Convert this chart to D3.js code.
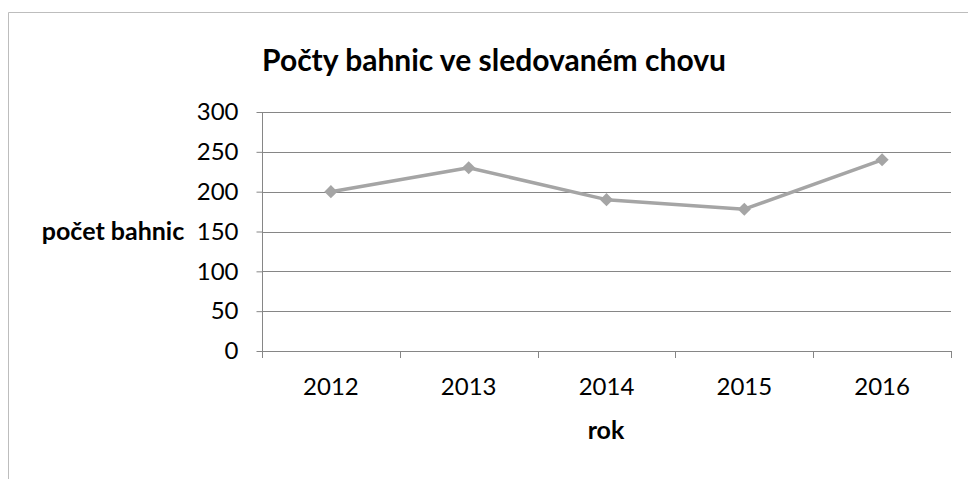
<!DOCTYPE html>
<html><head><meta charset="utf-8">
<script src="https://cdn.jsdelivr.net/npm/d3@7"></script>
<style>body{margin:0;background:#fff}svg{display:block}text{font-family:Lato,"Open Sans",sans-serif}</style>
</head><body>
<script>
const categories = ["2012","2013","2014","2015","2016"];
const values = [200, 230, 190, 178, 240];
const yTicks = [0,50,100,150,200,250,300];
const title = "Počty bahnic ve sledovaném chovu";
const xTitle = "rok";
const yTitle = "počet bahnic";

(function(){
const W=968,H=479;
const svg=d3.select("body").append("svg").attr("width",W).attr("height",H);
svg.append("rect").attr("width",W).attr("height",H).attr("fill","#fff");
svg.append("path").attr("d","M8.5,480 V12.5 H970").attr("fill","none").attr("stroke","#BDBDBD").attr("stroke-width",1);

const pL=262,pR=951,pT=112,pB=351;
const x=d3.scaleBand().domain(categories).range([pL,pR]).padding(0);
const y=d3.scaleLinear().domain([0,300]).range([pB,pT]);

svg.append("g").selectAll("line").data(yTicks.filter(d=>d>0)).join("line")
 .attr("x1",pL).attr("x2",pR).attr("y1",d=>Math.round(y(d))+0.5).attr("y2",d=>Math.round(y(d))+0.5)
 .attr("stroke","#868686").attr("stroke-width",1);

const ya=svg.append("g").attr("transform",`translate(${pL+0.5},0)`)
 .call(d3.axisLeft(y).tickValues(yTicks).tickSize(6).tickPadding(18).tickFormat(d3.format("d")));
ya.select(".domain").attr("stroke","#868686").attr("d",`M0,${pT}V${pB}`);
ya.selectAll(".tick line").attr("stroke","#868686");
ya.selectAll(".tick text").attr("font-size",24).attr("fill","#000").attr("font-family","Lato");

const xa=svg.append("g").attr("transform",`translate(0,${pB+0.5})`)
 .call(d3.axisBottom(x).tickSize(0).tickPadding(26));
xa.select(".domain").attr("stroke","#868686").attr("d",`M${pL},0H${pR}`);
xa.selectAll(".tick text").attr("font-size",24).attr("fill","#000").attr("font-family","Lato");
const bounds=categories.map(c=>x(c)).concat([pR]);
svg.append("g").selectAll("line").data(bounds).join("line")
 .attr("x1",d=>Math.round(d)+0.5).attr("x2",d=>Math.round(d)+0.5).attr("y1",pB).attr("y2",pB+7)
 .attr("stroke","#868686");

const cx=(i)=>x(categories[i])+x.bandwidth()/2;
svg.append("path").datum(values)
 .attr("d",d3.line().x((d,i)=>cx(i)).y(d=>y(d)))
 .attr("fill","none").attr("stroke","#A5A5A5").attr("stroke-width",3.5).attr("stroke-linejoin","round");
svg.append("g").selectAll("path").data(values).join("path")
 .attr("transform",(d,i)=>`translate(${cx(i)},${y(d)})`)
 .attr("d",d3.symbol(d3.symbolDiamond2,110)).attr("fill","#A5A5A5");

svg.append("text").attr("x",494).attr("y",71).attr("text-anchor","middle")
 .attr("font-size",30).attr("font-weight","bold").attr("fill","#000").text(title);
svg.append("text").attr("x",606).attr("y",439).attr("text-anchor","middle")
 .attr("font-size",25).attr("font-weight","bold").attr("fill","#000").text(xTitle);
svg.append("text").attr("x",113).attr("y",240).attr("text-anchor","middle")
 .attr("font-size",25).attr("font-weight","bold").attr("fill","#000").text(yTitle);
})();
</script>
</body></html>
